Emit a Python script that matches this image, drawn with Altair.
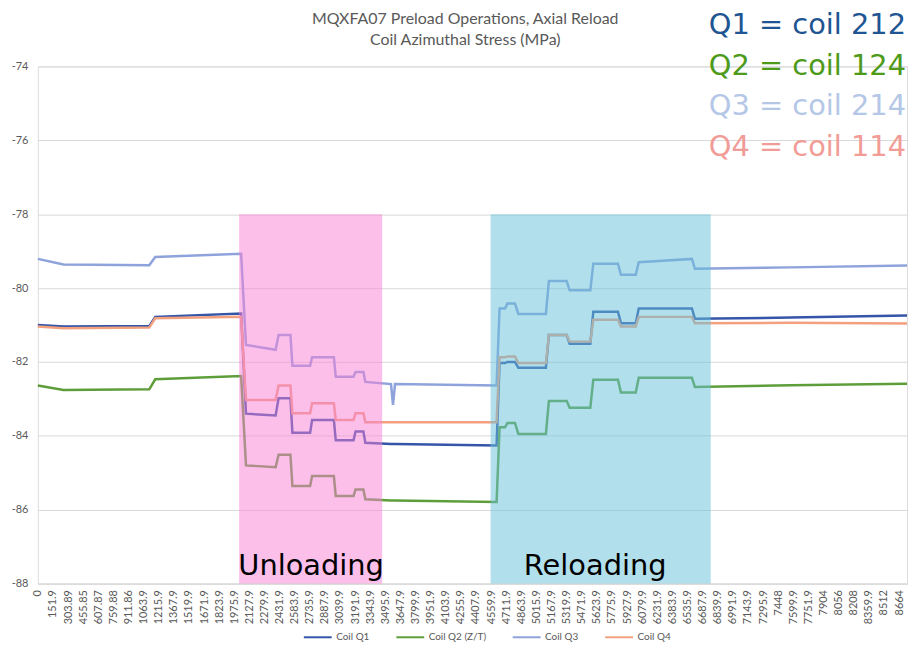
import altair as alt
import pandas as pd

# ---- data ----
# shared breakpoints on the category (time) axis
t = [0, 258, 1121, 1181, 2045, 2094, 2392, 2422, 2541, 2561, 2739, 2759, 2978, 2997,
     3176, 3196, 3275, 3295, 3553, 3573, 3593, 4615, 4645, 4700, 4724, 4800, 4834,
     5111, 5141, 5320, 5350, 5558, 5588, 5836, 5866, 6015, 6045, 6580, 6610, 7573, 8744]

q1 = [-81.00, -81.04, -81.03, -80.78, -80.69, -83.40, -83.45, -82.98, -82.98, -83.92,
      -83.92, -83.57, -83.57, -84.12, -84.12, -83.88, -83.88, -84.19, -84.22, -84.22,
      -84.22, -84.26, -82.03, -82.03, -82.00, -82.00, -82.16, -82.16, -81.27, -81.27,
      -81.51, -81.51, -80.64, -80.64, -80.95, -80.95, -80.55, -80.55, -80.83, -80.80, -80.74]

q2 = [-82.64, -82.76, -82.74, -82.47, -82.38, -84.80, -84.85, -84.51, -84.51, -85.36,
      -85.36, -85.09, -85.09, -85.63, -85.63, -85.45, -85.45, -85.72, -85.75, -85.75,
      -85.75, -85.79, -83.77, -83.77, -83.65, -83.65, -83.95, -83.95, -83.06, -83.06,
      -83.24, -83.24, -82.48, -82.48, -82.83, -82.83, -82.43, -82.43, -82.68, -82.63, -82.59]

q3 = [-79.21, -79.36, -79.38, -79.16, -79.07, -81.54, -81.67, -81.27, -81.27, -82.10,
      -82.10, -81.87, -81.87, -82.40, -82.40, -82.27, -82.27, -82.54, -82.60, -83.16,
      -82.60, -82.64, -80.55, -80.55, -80.42, -80.42, -80.70, -80.70, -79.81, -79.81,
      -80.06, -80.06, -79.34, -79.34, -79.64, -79.64, -79.30, -79.21, -79.48, -79.44, -79.39]

q4 = [-81.04, -81.09, -81.07, -80.82, -80.78, -83.03, -83.03, -82.64, -82.64, -83.39,
      -83.39, -83.12, -83.12, -83.57, -83.57, -83.39, -83.39, -83.63, -83.63, -83.63,
      -83.63, -83.63, -81.87, -81.87, -81.85, -81.85, -82.03, -82.03, -81.27, -81.27,
      -81.45, -81.45, -80.86, -80.86, -81.04, -81.04, -80.78, -80.78, -80.95, -80.94, -80.96]

series_names = ["Coil Q1", "Coil Q2 (Z/T)", "Coil Q3", "Coil Q4"]
series_colors = ["#3556A8", "#5E9E3A", "#8EA3DC", "#F2A07E"]

x_tick_values = [0, 151.9, 303.89, 455.85, 607.87, 759.88, 911.86, 1063.9, 1215.9, 1367.9,
                 1519.9, 1671.9, 1823.9, 1975.9, 2127.9, 2279.9, 2431.9, 2583.9, 2735.9,
                 2887.9, 3039.9, 3191.9, 3343.9, 3495.9, 3647.9, 3799.9, 3951.9, 4103.9,
                 4255.9, 4407.9, 4559.9, 4711.9, 4863.9, 5015.9, 5167.9, 5319.9, 5471.9,
                 5623.9, 5775.9, 5927.9, 6079.9, 6231.9, 6383.9, 6535.9, 6687.9, 6839.9,
                 6991.9, 7143.9, 7295.9, 7448, 7599.9, 7751.9, 7904, 8056, 8208, 8359.9,
                 8512, 8664]
y_tick_values = [-88, -86, -84, -82, -80, -78, -76, -74]

# shaded phases
phase_start = [2025, 4555]
phase_end = [3464, 6769]
phase_top = [-78, -78]
phase_bottom = [-88, -88]
phase_colors = ["#F77FD6", "#66BFD9"]
phase_labels = ["Unloading", "Reloading"]
phase_label_x = [2749, 5607]
phase_label_y = [-87.76, -87.76]

# coil annotations
coil_text = ["Q1 = coil 212", "Q2 = coil 124", "Q3 = coil 214", "Q4 = coil 114"]
coil_text_y = [-73.11, -74.24, -75.32, -76.42]
coil_text_x = [8734, 8734, 8734, 8734]
coil_text_colors = ["#1F5592", "#4E9A1A", "#B4C7E7", "#F19C97"]

# chart title (two lines)
title_lines = ["MQXFA07 Preload Operations, Axial Reload", "Coil Azimuthal Stress (MPa)"]
title_x = [4300, 4300]
title_y = [-72.84, -73.41]

# ---- tables ----
rows = []
for name, vals in zip(series_names, [q1, q2, q3, q4]):
    for xv, yv in zip(t, vals):
        rows.append({"t": xv, "stress": yv, "series": name})
lines_df = pd.DataFrame(rows)

phase_df = pd.DataFrame({"x": phase_start, "x2": phase_end, "y": phase_top,
                         "y2": phase_bottom, "col": phase_colors})
phase_lbl_df = pd.DataFrame({"x": phase_label_x, "y": phase_label_y, "text": phase_labels})
coil_df = pd.DataFrame({"x": coil_text_x, "y": coil_text_y, "text": coil_text,
                        "col": coil_text_colors})
title_df = pd.DataFrame({"x": title_x, "y": title_y, "text": title_lines})

x_scale = alt.Scale(domain=[0, 8744], nice=False, zero=False)
y_scale = alt.Scale(domain=[-88, -74], nice=False, zero=False)

x_axis = alt.Axis(values=x_tick_values, tickCount=200, labelExpr="datum.value + ''",
                  labelAngle=-90, labelAlign="right", labelBaseline="middle",
                  labelOverlap=False, labelFlush=False, labelFont="Lato", labelFontSize=11,
                  labelColor="#595959", labelPadding=6, ticks=False, grid=False,
                  domain=True, domainColor="#D9D9D9", title=None)
y_axis = alt.Axis(values=y_tick_values, labelExpr="datum.value + ''", labelFont="Lato",
                  labelFontSize=11, labelColor="#595959", labelPadding=10, ticks=False,
                  domain=False, grid=True, gridColor="#D9D9D9", gridWidth=1, title=None)

legend = alt.Legend(orient="none", legendX=266, legendY=569, direction="horizontal",
                    title=None, symbolType="M-1,0H7", symbolSize=49, symbolStrokeWidth=2,
                    labelFont="Lato", labelFontSize=10, labelColor="#595959",
                    labelOffset=24, columnPadding=22)

lines = alt.Chart(lines_df).mark_line(strokeWidth=2.5).encode(
    x=alt.X("t:Q", scale=x_scale, axis=x_axis),
    y=alt.Y("stress:Q", scale=y_scale, axis=y_axis),
    color=alt.Color("series:N", scale=alt.Scale(domain=series_names, range=series_colors),
                    legend=legend),
    order=alt.Order("t:Q"),
)

rects = alt.Chart(phase_df).mark_rect(opacity=0.5).encode(
    x="x:Q", x2="x2:Q", y="y:Q", y2="y2:Q",
    color=alt.Color("col:N", scale=None, legend=None),
)

phase_text = alt.Chart(phase_lbl_df).mark_text(
    align="center", baseline="alphabetic", font="DejaVu Sans", fontSize=29, color="#000000"
).encode(x="x:Q", y="y:Q", text="text:N")

coil_labels = alt.Chart(coil_df).mark_text(
    align="right", baseline="alphabetic", font="DejaVu Sans", fontSize=29
).encode(x="x:Q", y="y:Q", text="text:N",
         color=alt.Color("col:N", scale=None, legend=None))

title_text = alt.Chart(title_df).mark_text(
    align="center", baseline="alphabetic", font="Lato", fontSize=16, color="#595959"
).encode(x="x:Q", y="y:Q", text="text:N")

chart = alt.layer(lines, rects, phase_text, coil_labels, title_text).resolve_scale(
    color="independent"
).properties(
    width=874, height=520,
    padding={"left": 3, "right": 0, "top": 0, "bottom": 0},
).configure_view(stroke=None).configure(background="white")

chart.save("out.html", embed_options={"renderer": "svg", "actions": False})
